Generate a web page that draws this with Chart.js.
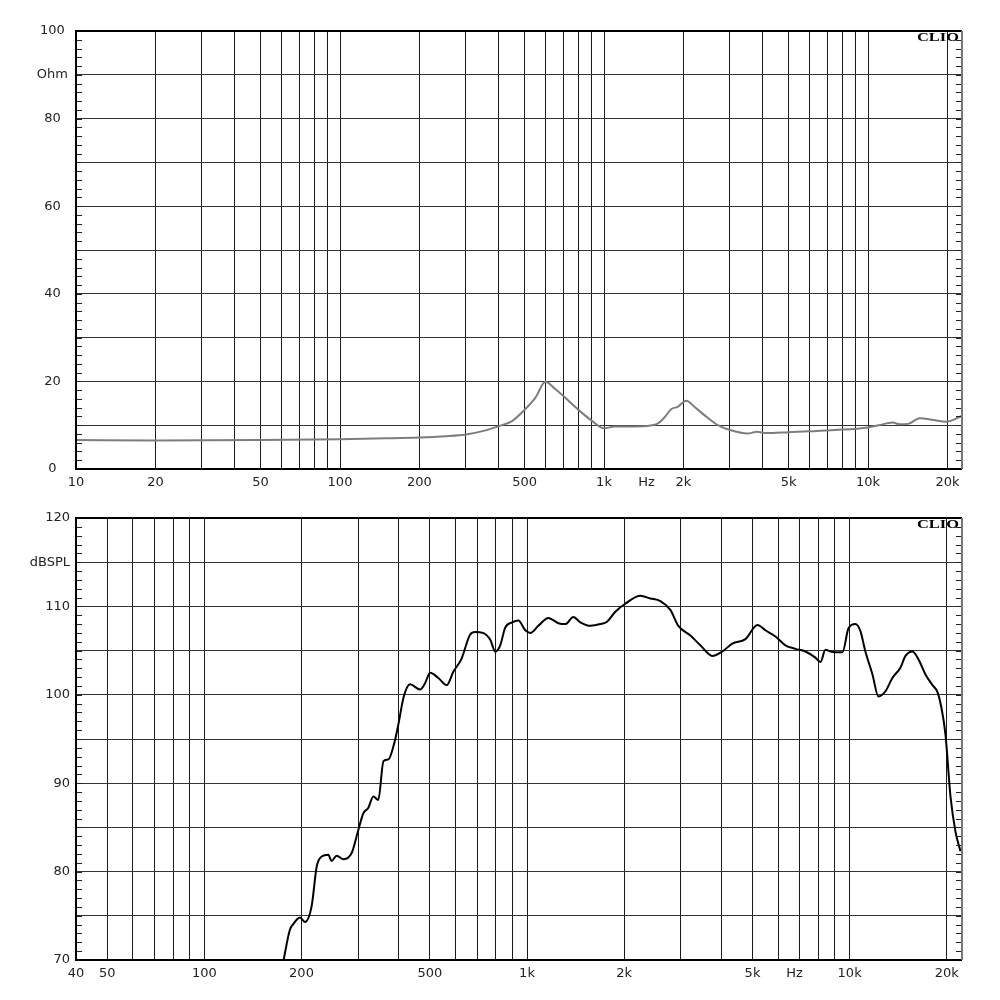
<!DOCTYPE html>
<html>
<head>
<meta charset="utf-8">
<script src="https://cdn.jsdelivr.net/npm/chart.js@4.4.0/dist/chart.umd.min.js"></script>
<style>
  body { margin: 0; background: #fff; }
  .box { position: absolute; left: 0; width: 1000px; height: 500px; }
</style>
</head>
<body>
<div class="box" style="top:0"><canvas id="impChart" width="1000" height="500"></canvas></div>
<div class="box" style="top:500px"><canvas id="splChart" width="1000" height="500"></canvas></div>
<script>
// impedance curve (top)
const impFreq = [10, 20, 50, 100, 150, 200, 250, 300, 350, 400, 450, 500, 550, 600, 650, 700, 800, 900, 1000, 1100, 1250, 1450, 1600, 1700, 1800, 1900, 2050, 2200, 2400, 2700, 3000, 3500, 3800, 4100, 5000, 6000, 7500, 10000, 11000, 12400, 13200, 14200, 15700, 17700, 19800, 22600];
const impOhm = [6.6, 6.5, 6.6, 6.8, 7.0, 7.2, 7.5, 7.9, 8.7, 9.8, 11.0, 13.5, 16.3, 19.9, 18.4, 16.7, 13.5, 11.0, 9.3, 9.7, 9.7, 9.8, 10.4, 11.9, 13.7, 14.2, 15.6, 14.2, 12.3, 10.0, 8.9, 8.1, 8.5, 8.2, 8.4, 8.6, 8.9, 9.5, 10.0, 10.6, 10.2, 10.3, 11.6, 11.2, 10.8, 12.1];

// SPL curve (bottom)
const splFreq = [176, 184, 188, 198, 205, 215, 223, 231, 242, 248, 257, 270, 286, 300, 311, 322, 334, 346, 359, 372, 390, 400, 415, 434, 466, 483, 501, 531, 564, 591, 627, 666, 691, 730, 770, 797, 826, 856, 900, 940, 988, 1024, 1084, 1164, 1251, 1315, 1392, 1463, 1572, 1688, 1774, 1878, 2017, 2246, 2412, 2591, 2782, 2945, 3210, 3446, 3754, 4033, 4331, 4753, 5178, 5483, 5888, 6324, 6792, 7295, 7834, 8119, 8414, 8720, 9232, 9500, 9915, 10420, 10800, 11190, 11770, 12285, 12910, 13570, 14380, 14900, 15660, 16350, 17180, 18060, 18720, 19260, 19820, 20540, 21290, 22060];
const splDb = [70, 73.4, 74.0, 74.8, 74.3, 76.1, 80.6, 81.7, 81.9, 81.2, 81.8, 81.4, 82.1, 84.7, 86.6, 87.2, 88.5, 88.1, 92.5, 92.7, 94.9, 96.8, 99.8, 101.2, 100.6, 101.3, 102.5, 101.9, 101.1, 102.6, 104.1, 106.8, 107.1, 107.0, 106.2, 104.9, 105.6, 107.6, 108.2, 108.4, 107.3, 107.0, 107.8, 108.7, 108.1, 108.0, 108.8, 108.2, 107.8, 108.0, 108.3, 109.4, 110.3, 111.2, 110.9, 110.6, 109.6, 107.8, 106.7, 105.6, 104.4, 104.9, 105.8, 106.3, 107.9, 107.3, 106.6, 105.6, 105.2, 104.9, 104.2, 103.7, 105.1, 104.9, 104.8, 104.8, 107.5, 108.0, 107.2, 104.9, 102.3, 99.8, 100.4, 101.9, 103.1, 104.4, 104.9, 104.0, 102.3, 101.1, 100.3, 98.5, 95.5, 88.5, 84.5, 82.3];

// axis ticks and labels
const impXTicks = [10, 20, 30, 40, 50, 60, 70, 80, 90, 100, 200, 300, 400, 500, 600, 700, 800, 900, 1000, 1450, 2000, 3000, 4000, 5000, 6000, 7000, 8000, 9000, 10000, 20000];
const impXLabels = ['10', '20', '', '', '50', '', '', '', '', '100', '200', '', '', '500', '', '', '', '', '1k', 'Hz', '2k', '', '', '5k', '', '', '', '', '10k', '20k'];
const impYTicks = [0, 10, 20, 30, 40, 50, 60, 70, 80, 90, 100];
const impYLabels = ['0', '', '20', '', '40', '', '60', '', '80', 'Ohm', '100'];

const splXTicks = [40, 50, 60, 70, 80, 90, 100, 200, 300, 400, 500, 600, 700, 800, 900, 1000, 2000, 3000, 4000, 5000, 6000, 6750, 7000, 8000, 9000, 10000, 20000];
const splXLabels = ['40', '50', '', '', '', '', '100', '200', '', '', '500', '', '', '', '', '1k', '2k', '', '', '5k', '', 'Hz', '', '', '', '10k', '20k'];
const splYTicks = [70, 75, 80, 85, 90, 95, 100, 105, 110, 115, 120];
const splYLabels = ['70', '', '80', '', '90', '', '100', '', '110', 'dBSPL', '120'];

const labelFont = { family: 'DejaVu Sans', size: 13 };

// frame, small inner ticks and the CLIO mark
const framePlugin = {
  id: 'frame',
  afterDraw(chart, args, opts) {
    const ctx = chart.ctx;
    const a = chart.chartArea;
    const y = chart.scales.y;
    ctx.save();
    ctx.strokeStyle = '#222';
    ctx.lineWidth = 1;
    const n = Math.round((y.max - y.min) / opts.step);
    for (let i = 0; i <= n; i++) {
      const py = Math.round(y.getPixelForValue(y.min + i * opts.step)) + 0.5;
      ctx.beginPath();
      ctx.moveTo(a.left, py); ctx.lineTo(a.left + 6, py);
      ctx.moveTo(a.right - 6, py); ctx.lineTo(a.right, py);
      ctx.stroke();
    }
    ctx.lineWidth = 2;
    ctx.strokeStyle = '#000';
    ctx.beginPath();
    ctx.moveTo(a.right, a.top); ctx.lineTo(a.left, a.top);
    ctx.lineTo(a.left, a.bottom); ctx.lineTo(a.right, a.bottom);
    ctx.stroke();
    ctx.strokeStyle = '#777';
    ctx.beginPath();
    ctx.moveTo(a.right, a.top); ctx.lineTo(a.right, a.bottom);
    ctx.stroke();
    // CLIO
    ctx.font = 'bold 12px "Liberation Serif"';
    const w = ctx.measureText('CLIO').width;
    ctx.translate(a.right - 3, a.top + 1);
    ctx.scale(42 / w, 1);
    ctx.fillStyle = '#000';
    ctx.textAlign = 'right';
    ctx.textBaseline = 'top';
    ctx.fillText('CLIO', 0, 0);
    ctx.restore();
  }
};

function makeChart(id, opt) {
  const points = opt.freq.map((f, i) => ({ x: f, y: opt.vals[i] }));
  return new Chart(document.getElementById(id), {
    type: 'line',
    data: {
      datasets: [{
        data: points,
        borderColor: opt.color,
        borderWidth: 2,
        pointRadius: 0,
        cubicInterpolationMode: 'monotone',
        fill: false
      }]
    },
    options: {
      responsive: false,
      animation: false,
      layout: { padding: { left: 0, right: 38, top: opt.top, bottom: 0 } },
      plugins: {
        legend: { display: false },
        tooltip: { enabled: false },
        frame: { step: opt.minorStep }
      },
      scales: {
        x: {
          type: 'logarithmic',
          min: opt.xMin,
          max: opt.xMax,
          afterBuildTicks: s => { s.ticks = opt.xTicks.map(v => ({ value: v })); },
          afterFit: s => { s.height = opt.xHeight; },
          border: { display: false },
          grid: {
            drawTicks: false,
            lineWidth: 1,
            color: c => (c.tick && c.tick.value === opt.hz) ? 'rgba(0,0,0,0)' : '#1a1a1a'
          },
          ticks: {
            autoSkip: false,
            maxRotation: 0,
            padding: 6,
            color: '#222',
            font: labelFont,
            callback: v => {
              const i = opt.xTicks.indexOf(v);
              return i >= 0 ? opt.xLabels[i] : '';
            }
          }
        },
        y: {
          type: 'linear',
          min: opt.yTicks[0],
          max: opt.yTicks[opt.yTicks.length - 1],
          afterBuildTicks: s => { s.ticks = opt.yTicks.map(v => ({ value: v })); },
          afterFit: s => { s.width = 76; },
          border: { display: false },
          grid: { drawTicks: false, lineWidth: 1, color: '#333' },
          ticks: {
            padding: opt.yPad,
            crossAlign: opt.yAlign,
            color: '#222',
            font: labelFont,
            callback: v => {
              const i = opt.yTicks.indexOf(v);
              return i >= 0 ? opt.yLabels[i] : '';
            }
          }
        }
      }
    },
    plugins: [framePlugin]
  });
}

makeChart('impChart', {
  freq: impFreq, vals: impOhm, color: '#7d7d7d',
  xMin: 10, xMax: 22700, xTicks: impXTicks, xLabels: impXLabels, hz: 1450,
  yTicks: impYTicks, yLabels: impYLabels, minorStep: 2,
  top: 31, xHeight: 31, yPad: 8, yAlign: 'center'
});

makeChart('splChart', {
  freq: splFreq, vals: splDb, color: '#000',
  xMin: 40, xMax: 22300, xTicks: splXTicks, xLabels: splXLabels, hz: 6750,
  yTicks: splYTicks, yLabels: splYLabels, minorStep: 1,
  top: 18, xHeight: 40, yPad: 6, yAlign: 'near'
});
</script>
</body>
</html>
